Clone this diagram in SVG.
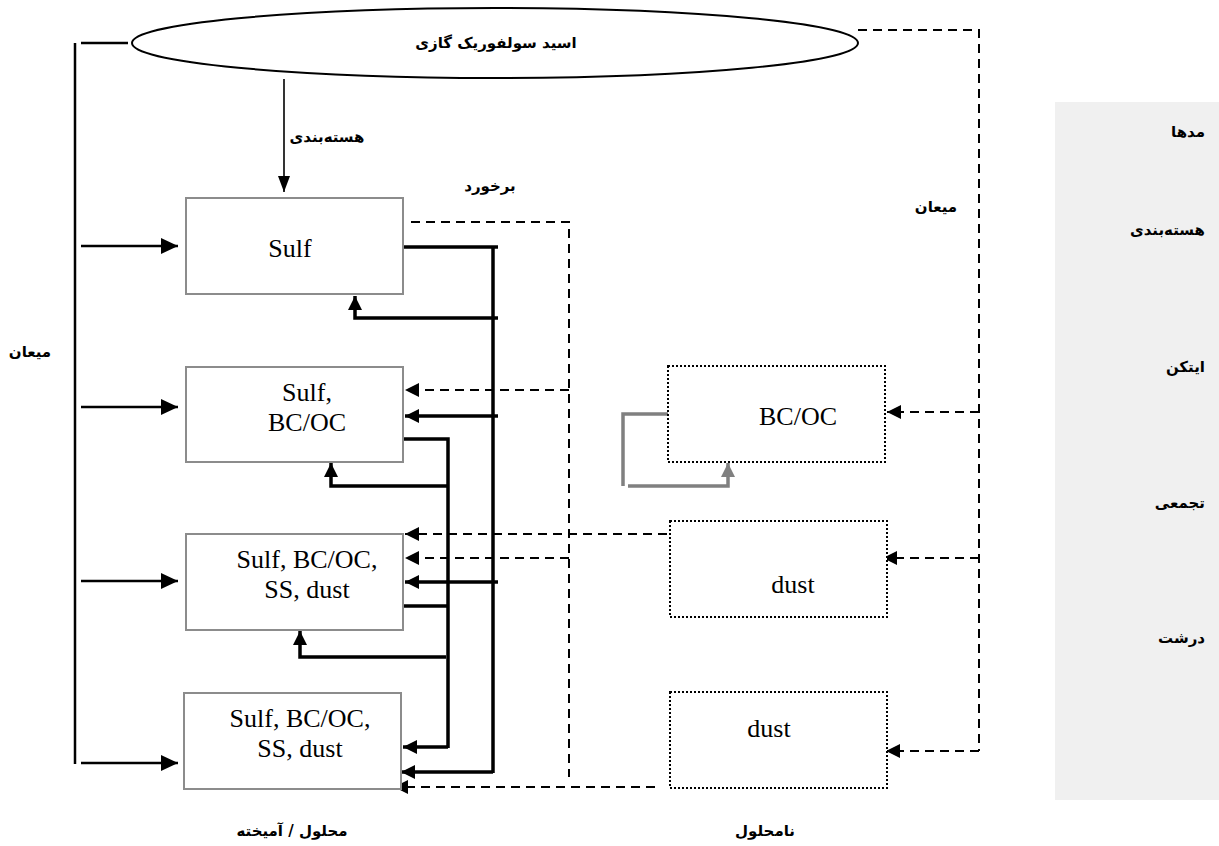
<svg xmlns="http://www.w3.org/2000/svg" width="1219" height="846" viewBox="0 0 1219 846">
<style>
.fa{font-family:'DejaVu Sans',sans-serif;font-weight:bold;font-size:15px;fill:#000}
.en{font-family:'Liberation Serif','Times New Roman',serif;font-size:26px;fill:#000}
.box{fill:#fff;stroke:#8c8c8c;stroke-width:2}
.dot{fill:#fff;stroke:#000;stroke-width:2;stroke-dasharray:2 2}
.solid{fill:none;stroke:#000;stroke-width:3.5}
.thin{fill:none;stroke:#000;stroke-width:2.5}
.dash{fill:none;stroke:#000;stroke-width:2;stroke-dasharray:9 6}
.gray{fill:none;stroke:#808080;stroke-width:3.5}
</style>
<defs>
<marker id="ah" markerUnits="userSpaceOnUse" markerWidth="14" markerHeight="14" refX="14" refY="7" orient="auto"><path d="M0,0 L14,7 L0,14 z" fill="#000"/></marker>
<marker id="ahL" markerUnits="userSpaceOnUse" markerWidth="17" markerHeight="16" refX="17" refY="8" orient="auto"><path d="M0,0 L17,8 L0,16 z" fill="#000"/></marker>
<marker id="ahD" markerUnits="userSpaceOnUse" markerWidth="14" markerHeight="14" refX="14" refY="7" orient="auto"><path d="M0,0 L14,7 L0,14 z" fill="#000"/></marker>
<marker id="ahN" markerUnits="userSpaceOnUse" markerWidth="16" markerHeight="12" refX="16" refY="6" orient="auto"><path d="M0,0 L16,6 L0,12 z" fill="#000"/></marker>
<marker id="ahG" markerUnits="userSpaceOnUse" markerWidth="14" markerHeight="14" refX="14" refY="7" orient="auto"><path d="M0,0 L14,7 L0,14 z" fill="#808080"/></marker>
</defs>

<rect id="legend-panel" x="1055" y="102" width="164" height="698" fill="#f0f0f0"/>
<g id="legend-text">
<text class="fa" x="1205" y="137" text-anchor="end">مدها</text>
<text class="fa" x="1205" y="235" text-anchor="end">هسته‌بندی</text>
<text class="fa" x="1205" y="372" text-anchor="end">ایتکن</text>
<text class="fa" x="1205" y="508" text-anchor="end">تجمعی</text>
<text class="fa" x="1205" y="643" text-anchor="end">درشت</text>
</g>

<g id="connectors">
<line class="thin" x1="75" y1="43" x2="75" y2="764"/>
<line class="thin" x1="81" y1="43" x2="128" y2="43"/>
<line class="thin" x1="81" y1="246" x2="178" y2="246" marker-end="url(#ahL)"/>
<line class="thin" x1="81" y1="407" x2="178" y2="407" marker-end="url(#ahL)"/>
<line class="thin" x1="81" y1="581" x2="178" y2="581" marker-end="url(#ahL)"/>
<line class="thin" x1="81" y1="763" x2="178" y2="763" marker-end="url(#ahL)"/>
<line x1="284" y1="79" x2="284" y2="192" stroke="#000" stroke-width="1.6" marker-end="url(#ahN)"/>
<path class="dash" d="M858,30 H979 V751"/>
<line class="dash" x1="979" y1="412" x2="887" y2="412" marker-end="url(#ahD)"/>
<line class="dash" x1="979" y1="558" x2="883" y2="558" marker-end="url(#ahD)"/>
<line class="dash" x1="979" y1="751" x2="886" y2="751" marker-end="url(#ahD)"/>
<path class="dash" d="M411,222 H569 V777"/>
<line class="dash" x1="569" y1="390" x2="405" y2="390" marker-end="url(#ahD)"/>
<line class="dash" x1="569" y1="558" x2="405" y2="558" marker-end="url(#ahD)"/>
<line class="dash" x1="667" y1="534" x2="405" y2="534" marker-end="url(#ahD)"/>
<line class="dash" x1="655" y1="787" x2="394" y2="787" marker-end="url(#ahD)"/>
<path class="solid" d="M404,247 H498"/>
<path class="solid" d="M493,247 V773"/>
<path class="solid" d="M498,318 H355 V296" marker-end="url(#ah)"/>
<path class="solid" d="M498,416 H405" marker-end="url(#ah)"/>
<path class="solid" d="M498,582 H405" marker-end="url(#ah)"/>
<path class="solid" d="M493,772 H401" marker-end="url(#ah)"/>
<path class="solid" d="M404,439 H448 V748"/>
<path class="solid" d="M448,486 H331 V463" marker-end="url(#ah)"/>
<path class="solid" d="M404,606 H448"/>
<path class="solid" d="M446,657 H300 V631" marker-end="url(#ah)"/>
<path class="solid" d="M448,747 H403" marker-end="url(#ah)"/>
<path class="gray" d="M668,414 H623 V486"/>
<path class="gray" d="M628,486 H728 V463" marker-end="url(#ahG)"/>
</g>

<g id="node-acid">
<ellipse cx="495" cy="43" rx="363" ry="35" fill="#fff" stroke="#000" stroke-width="2"/>
<text class="fa" x="496" y="48" text-anchor="middle">اسید سولفوریک گازی</text>
</g>

<g id="node-sulf">
<rect class="box" x="186" y="198" width="217" height="96"/>
<text class="en" x="290" y="257" text-anchor="middle">Sulf</text>
</g>
<g id="node-sulf-bcoc">
<rect class="box" x="186" y="367" width="217" height="95"/>
<text class="en" x="307" y="401" text-anchor="middle">Sulf,</text>
<text class="en" x="307" y="431" text-anchor="middle">BC/OC</text>
</g>
<g id="node-mixed-acc">
<rect class="box" x="186" y="534" width="217" height="96"/>
<text class="en" x="307" y="568" text-anchor="middle">Sulf, BC/OC,</text>
<text class="en" x="307" y="598" text-anchor="middle">SS, dust</text>
</g>
<g id="node-mixed-coarse">
<rect class="box" x="184" y="693" width="217" height="96"/>
<text class="en" x="300" y="727" text-anchor="middle">Sulf, BC/OC,</text>
<text class="en" x="300" y="757" text-anchor="middle">SS, dust</text>
</g>

<g id="node-bcoc-insol">
<rect class="dot" x="668" y="366" width="217" height="96"/>
<text class="en" x="798" y="425" text-anchor="middle">BC/OC</text>
</g>
<g id="node-dust-acc">
<rect class="dot" x="670" y="521" width="217" height="96"/>
<text class="en" x="793" y="593" text-anchor="middle">dust</text>
</g>
<g id="node-dust-coarse">
<rect class="dot" x="670" y="692" width="217" height="96"/>
<text class="en" x="769" y="737" text-anchor="middle">dust</text>
</g>

<g id="labels">
<text class="fa" x="327" y="142" text-anchor="middle">هسته‌بندی</text>
<text class="fa" x="490" y="191" text-anchor="middle">برخورد</text>
<text class="fa" x="936" y="212" text-anchor="middle">میعان</text>
<text class="fa" x="30" y="357" text-anchor="middle">میعان</text>
<text class="fa" x="292" y="836" text-anchor="middle" direction="rtl">محلول / آمیخته</text>
<text class="fa" x="765" y="836" text-anchor="middle">نامحلول</text>
</g>
</svg>
